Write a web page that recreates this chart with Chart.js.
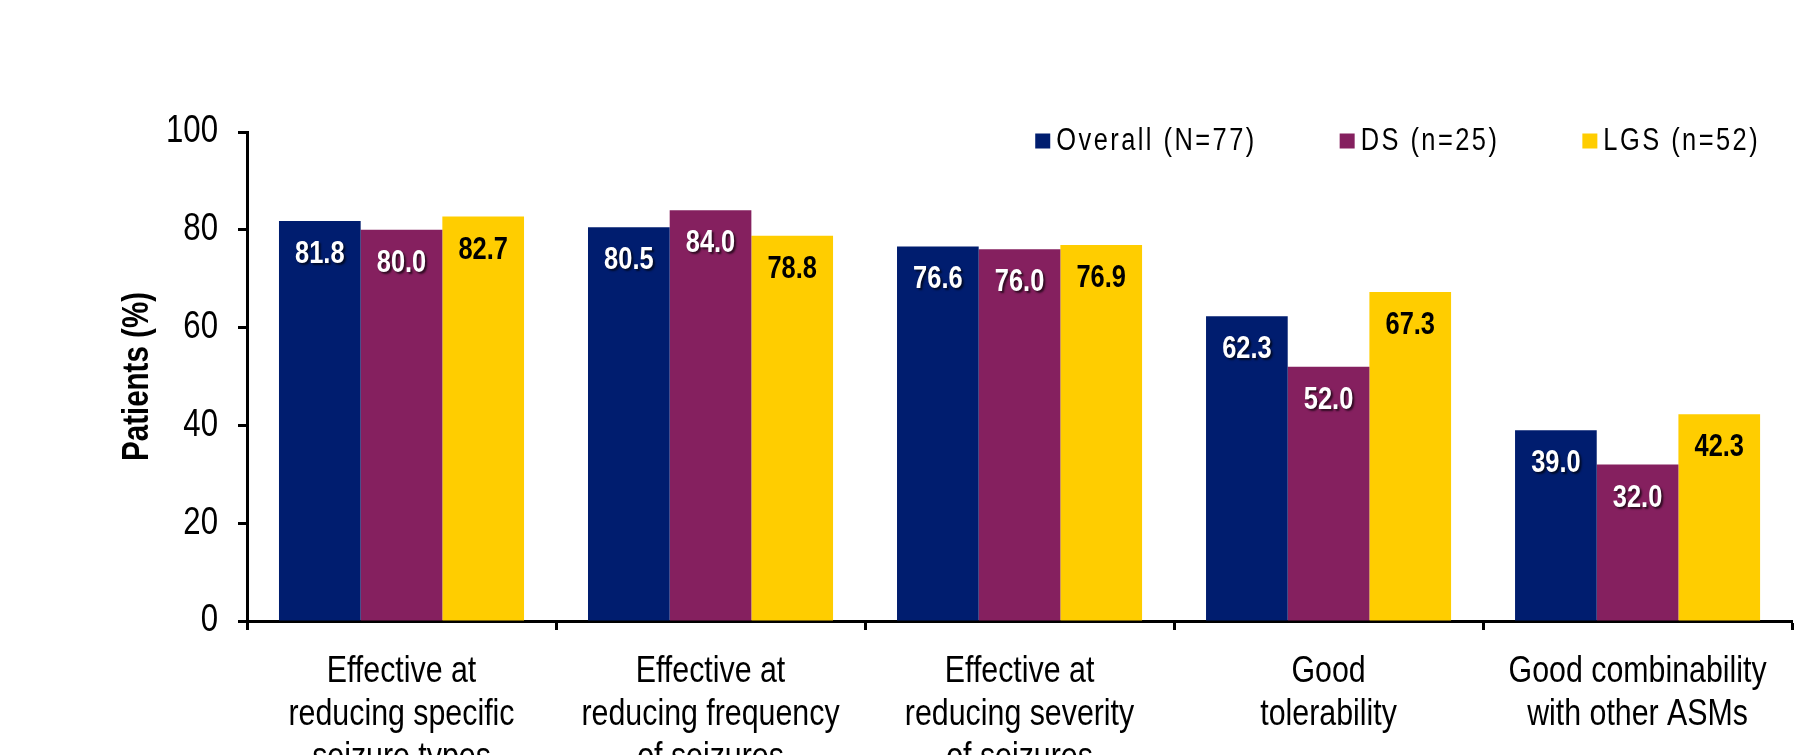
<!DOCTYPE html>
<html>
<head>
<meta charset="utf-8">
<title>Patients (%)</title>
<script src="https://cdn.jsdelivr.net/npm/chart.js@4.4.1/dist/chart.umd.min.js"></script>
<style>
    html, body { margin: 0; padding: 0; background: #fff; overflow: hidden; }
    canvas { display: block; }
</style>
</head>
<body>
<canvas id="chart" width="1817" height="755"></canvas>
<script>
var categories = [
    ['Effective at', 'reducing specific', 'seizure types'],
    ['Effective at', 'reducing frequency', 'of seizures'],
    ['Effective at', 'reducing severity', 'of seizures'],
    ['Good', 'tolerability'],
    ['Good combinability', 'with other ASMs']
];
var seriesNames = ['Overall (N=77)', 'DS (n=25)', 'LGS (n=52)'];
var overallValues = [81.8, 80.5, 76.6, 62.3, 39.0];
var dsValues = [80.0, 84.0, 76.0, 52.0, 32.0];
var lgsValues = [82.7, 78.8, 76.9, 67.3, 42.3];
var yTicks = [0, 20, 40, 60, 80, 100];

var seriesColors = ['#001D6F', '#85205F', '#FFCD00'];
var valueColors = ['#ffffff', '#ffffff', '#000000'];
var fontFamily = '"Liberation Sans", Arial, sans-serif';

// no narrow face available, so squeeze every string drawn on this canvas
// horizontally around its anchor point (keeps left/center/right alignment)
var squeeze = 0.82;
function condenseText(ctx, k) {
    var fillText = ctx.fillText;
    ctx.fillText = function(text, x, y, maxWidth) {
        this.save();
        this.translate(x, y);
        this.scale(k, 1);
        if (maxWidth !== undefined) {
            fillText.call(this, text, 0, 0, maxWidth / k);
        } else {
            fillText.call(this, text, 0, 0);
        }
        this.restore();
    };
}

// numbers printed inside the top of every bar
var valueLabels = {
    id: 'valueLabels',
    afterDatasetsDraw: function(chart) {
        var ctx = chart.ctx;
        chart.data.datasets.forEach(function(dataset, i) {
            var meta = chart.getDatasetMeta(i);
            meta.data.forEach(function(bar, j) {
                ctx.save();
                ctx.font = 'bold 31px ' + fontFamily;
                ctx.textAlign = 'center';
                ctx.textBaseline = 'alphabetic';
                if (valueColors[i] === '#ffffff') {
                    ctx.shadowColor = 'rgba(0, 0, 0, 0.65)';
                    ctx.shadowOffsetX = 2;
                    ctx.shadowOffsetY = 2;
                    ctx.shadowBlur = 2;
                }
                ctx.fillStyle = valueColors[i];
                ctx.fillText(dataset.data[j].toFixed(1), bar.x, bar.y + 42);
                ctx.restore();
            });
        });
    }
};

// legend sits inside the plot, top right, in one row
var boxLegend = {
    id: 'boxLegend',
    afterDraw: function(chart) {
        var ctx = chart.ctx;
        var area = chart.chartArea;
        var datasets = chart.data.datasets;
        var x = area.right - 32;
        var y = area.top + 9;

        ctx.save();
        ctx.font = '31px ' + fontFamily;
        ctx.letterSpacing = '3px';
        ctx.textBaseline = 'middle';
        ctx.textAlign = 'left';
        for (var i = datasets.length - 1; i >= 0; i--) {
            var w = ctx.measureText(datasets[i].label).width * squeeze;
            x -= w;
            ctx.fillStyle = '#000';
            ctx.fillText(datasets[i].label, x, y);
            x -= 21;
            ctx.fillStyle = datasets[i].backgroundColor;
            ctx.fillRect(x, y - 7.5, 15, 15);
            x -= 83;
        }
        ctx.restore();
    }
};

var axisGrid = {
    display: true,
    drawOnChartArea: false,
    drawTicks: true,
    tickLength: 9,
    tickWidth: 3,
    tickColor: '#000'
};

var config = {
    type: 'bar',
    data: {
        labels: categories,
        datasets: [
            { label: seriesNames[0], data: overallValues, backgroundColor: seriesColors[0] },
            { label: seriesNames[1], data: dsValues, backgroundColor: seriesColors[1] },
            { label: seriesNames[2], data: lgsValues, backgroundColor: seriesColors[2] }
        ]
    },
    options: {
        responsive: false,
        animation: false,
        devicePixelRatio: 1,
        layout: {
            padding: { top: 132, right: 21, left: 0, bottom: 0 }
        },
        datasets: {
            bar: { categoryPercentage: 0.793, barPercentage: 1 }
        },
        plugins: {
            legend: { display: false },
            tooltip: { enabled: false }
        },
        scales: {
            x: {
                grid: axisGrid,
                border: { display: true, color: '#000', width: 3 },
                ticks: {
                    color: '#000',
                    font: { family: fontFamily, size: 37, lineHeight: 1.162 },
                    padding: 20,
                    maxRotation: 0,
                    autoSkip: false
                },
                afterFit: function(scale) { scale.height = 134; }
            },
            y: {
                min: 0,
                max: 100,
                grid: axisGrid,
                border: { display: true, color: '#000', width: 3 },
                ticks: {
                    color: '#000',
                    font: { family: fontFamily, size: 38 },
                    padding: 20
                },
                afterBuildTicks: function(scale) {
                    scale.ticks = yTicks.map(function(v) { return { value: v }; });
                },
                title: {
                    display: true,
                    text: 'Patients (%)',
                    color: '#000',
                    font: { family: fontFamily, size: 36, weight: 'bold' },
                    padding: { top: 116, bottom: 0 }
                },
                afterFit: function(scale) { scale.width = 247; }
            }
        }
    },
    plugins: [valueLabels, boxLegend]
};

var ctx = document.getElementById('chart').getContext('2d');
condenseText(ctx, squeeze);
new Chart(ctx, config);
</script>
</body>
</html>
